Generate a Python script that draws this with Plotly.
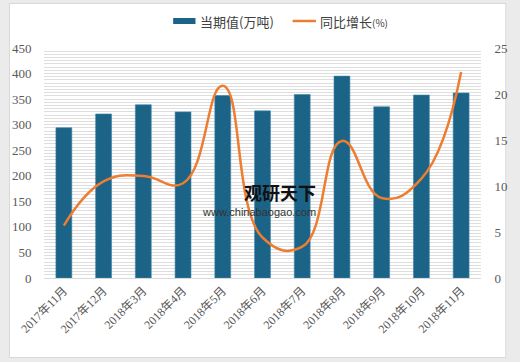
import plotly.graph_objects as go

categories = ["2017年11月", "2017年12月", "2018年3月", "2018年4月", "2018年5月", "2018年6月",
              "2018年7月", "2018年8月", "2018年9月", "2018年10月", "2018年11月"]
current_values = [294, 321, 339, 325, 357, 327, 359, 395, 335, 358, 362]
growth_values = [5.7, 10.5, 11.1, 10.3, 20.9, 4.4, 3.4, 14.9, 8.7, 10.8, 22.4]
left_ticks = [0, 50, 100, 150, 200, 250, 300, 350, 400, 450]
right_ticks = [0, 5, 10, 15, 20, 25]

BAR = "#1b6488"
LINE = "#ed7d31"
TXT = "#595959"
FONT = "Liberation Serif, Noto Sans CJK SC, serif"

fig = go.Figure()
fig.add_trace(go.Bar(x=categories, y=current_values, name="当期值(万吨)",
                     marker=dict(color=BAR, line=dict(color="#3a86aa", width=0.6)),
                     width=0.4, yaxis="y"))
fig.add_trace(go.Scatter(x=categories, y=growth_values, name="同比增长(%)", mode="lines",
                         line=dict(color=LINE, width=2.5, shape="spline", smoothing=1.3),
                         yaxis="y2"))

# plot area: x 40..490 px, y 48..278 px
L, R, T, B = 40, 30, 48, 84
PW, PH = 520 - L - R, 362 - T - B

def px(x):
    return (x - L) / PW

def py(y):
    return (362 - B - y) / PH

shapes = [
    dict(type="rect", xref="paper", yref="paper", x0=px(4), x1=px(516), y0=py(358), y1=py(3),
         fillcolor="#d8d8d8", line=dict(width=0), layer="below"),
    dict(type="rect", xref="paper", yref="paper", x0=px(5), x1=px(515), y0=py(357), y1=py(4),
         fillcolor="white", line=dict(width=0), layer="below"),
    dict(type="rect", xref="paper", yref="paper", x0=px(173), x1=px(196), y0=py(24), y1=py(18),
         fillcolor=BAR, line=dict(width=0)),
    dict(type="line", xref="paper", yref="paper", x0=px(296), x1=px(320), y0=py(21), y1=py(21),
         line=dict(color=LINE, width=2.5)),
]

annotations = [
    dict(xref="paper", yref="paper", x=px(199), y=py(21), text="当期值(万吨)", showarrow=False,
         xanchor="left", yanchor="middle", font=dict(family="Noto Sans CJK SC", size=13, color="#404040")),
    dict(xref="paper", yref="paper", x=px(322), y=py(21), text="同比增长<span style='font-size:10px'>(%)</span>",
         showarrow=False, xanchor="left", yanchor="middle",
         font=dict(family="Noto Sans CJK SC", size=13, color="#404040")),
    dict(xref="paper", yref="paper", x=px(283), y=py(192), text="<b>观研天下</b>", showarrow=False,
         xanchor="center", yanchor="middle", font=dict(family="Noto Sans CJK SC", size=18, color="#111111")),
    dict(xref="paper", yref="paper", x=px(261), y=py(212), text="www.chinabaogao.com", showarrow=False,
         xanchor="center", yanchor="middle", font=dict(family="Liberation Sans, Arial", size=11, color="#333333")),
]

fig.update_layout(
    width=520, height=362,
    margin=dict(l=L, r=R, t=T, b=B),
    paper_bgcolor="#ebebeb",
    plot_bgcolor="#f7f7f7",
    showlegend=False,
    bargap=0.6,
    font=dict(family=FONT, size=12, color=TXT),
    shapes=shapes,
    annotations=annotations,
    xaxis=dict(tickangle=-45, tickfont=dict(family=FONT, size=12, color=TXT),
               showline=True, linecolor="#d9d9d9", linewidth=1, ticks="", showgrid=False),
    yaxis=dict(range=[0, 450], tickvals=left_ticks, ticks="outside", ticklen=9,
               tickcolor="rgba(0,0,0,0)", showgrid=True, gridcolor="#dedede", gridwidth=1,
               minor=dict(dtick=50 / 8, showgrid=True, gridcolor="#dedede", gridwidth=1),
               zeroline=False, tickfont=dict(family=FONT, size=13, color=TXT)),
    yaxis2=dict(range=[0, 25], tickvals=right_ticks, overlaying="y", side="right", ticks="outside",
                ticklen=10, tickcolor="rgba(0,0,0,0)", showgrid=False, zeroline=False,
                tickfont=dict(family=FONT, size=13, color=TXT)),
)

fig.write_html("out.html", config={"displayModeBar": False},
               post_script="document.body.style.margin='0';document.body.style.overflow='hidden';")
